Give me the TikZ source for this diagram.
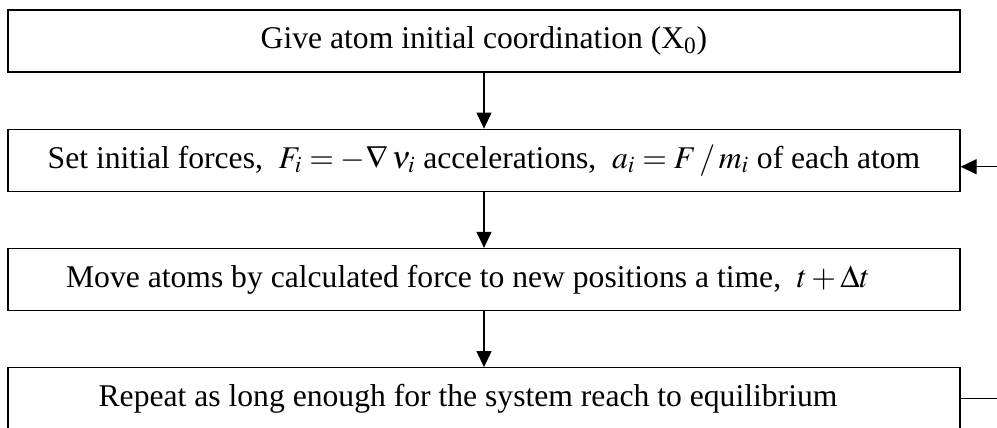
\documentclass[tikz,border=0pt]{standalone}
\usepackage{mathptmx}
\usepackage{fontspec}
\setmainfont{Liberation Serif}
\usetikzlibrary{positioning, arrows.meta}
\tikzset{
    >={Triangle[length=3.2mm, width=3mm]}, % filled triangle heads
    stepbox/.style={draw, minimum width=19.04cm, minimum height=1.24cm,
        inner sep=0pt, font=\fontsize{18}{20}\selectfont},
}

\begin{document}
\begin{tikzpicture}[node distance=1.12cm, line width=0.7pt]
    \useasboundingbox (0,0) rectangle (19.94,-8.54);
    \clip (0,0) rectangle (19.94,-8.54);
    % right edge, where the loop leaves the picture
    \coordinate (rim) at (19.94,0);

    % --- Steps ---
    \node[stepbox] (give) at (9.68,-0.82) {Give atom initial coordination (X\textsubscript{0})};
    \node[stepbox, below=of give] (force) {Set initial forces, \ $F_i = -\nabla\,\nu_i$ accelerations, \ $a_i = F \,/\, m_i$ of each atom};
    \node[stepbox, below=of force] (move) {\hspace*{-0.64cm}Move atoms by calculated force to new positions a time, \ $t + \Delta t$};
    \node[stepbox, below=of move] (repeat) {\hspace*{-0.64cm}Repeat as long enough for the system reach to equilibrium};

    % --- Flow ---
    \draw[->] (give) -- (force);
    \draw[->] (force) -- (move);
    \draw[->] (move) -- (repeat);

    % --- Loop back ---
    \coordinate (back) at ([yshift=-0.13cm]force.east);
    \draw (repeat.east) -- (repeat.east -| rim);
    \draw[->] (back -| rim) -- (back);
\end{tikzpicture}
\end{document}
